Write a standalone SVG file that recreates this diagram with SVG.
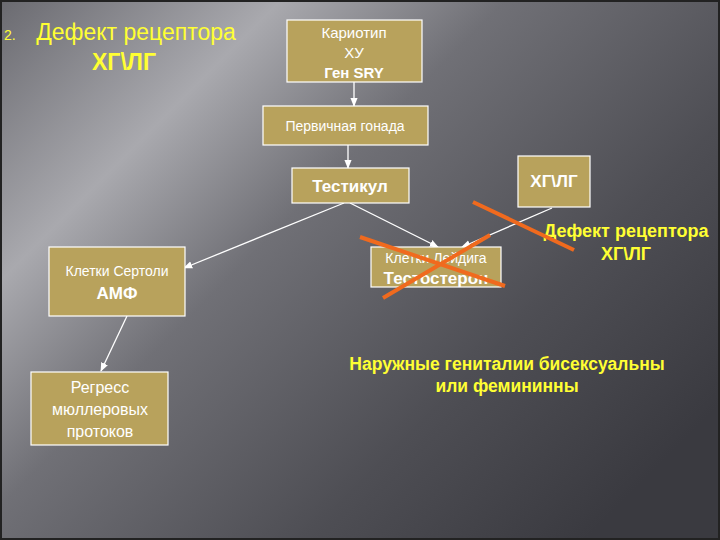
<svg xmlns="http://www.w3.org/2000/svg" width="720" height="540" viewBox="0 0 720 540">
<defs>
<linearGradient id="bg" x1="0" y1="0" x2="1" y2="0.75">
<stop offset="0" stop-color="#6a6a70"/>
<stop offset="0.25" stop-color="#a9a9ae"/>
<stop offset="0.45" stop-color="#707076"/>
<stop offset="0.75" stop-color="#4e4e54"/>
<stop offset="1" stop-color="#3a3a40"/>
</linearGradient>
<marker id="ah" viewBox="0 0 10 10" refX="9" refY="5" markerWidth="7" markerHeight="7" orient="auto"><path d="M0,1 L10,5 L0,9 z" fill="#fff"/></marker>
<style>
.box{fill:#b8a25c;stroke:#fff;stroke-width:1.2}
.t{font-family:"Liberation Sans",Arial,sans-serif;fill:#fff;text-anchor:middle}
.y{font-family:"Liberation Sans",Arial,sans-serif;fill:#ffff33;text-anchor:middle;font-weight:bold}
.c{stroke:#fff;stroke-width:1.3;fill:none;marker-end:url(#ah)}
.x{stroke:#f06a1e;stroke-width:4;stroke-linecap:butt}
</style>
</defs>
<rect width="720" height="540" fill="url(#bg)"/>
<rect x="1" y="1" width="718" height="538" fill="none" stroke="#222" stroke-width="2"/>
<text x="4" y="40" font-size="14" class="y" style="text-anchor:start;font-weight:normal">2.</text>
<text x="136" y="40" font-size="23" class="y" style="font-weight:normal">Дефект рецептора</text>
<text x="124" y="70" font-size="23" class="y">ХГ\ЛГ</text>
<g id="connectors">
<line class="c" x1="354" y1="82" x2="354" y2="106"/>
<line class="c" x1="348" y1="145" x2="348" y2="168"/>
<line class="c" x1="344" y1="203" x2="184" y2="268"/>
<line class="c" x1="350" y1="203" x2="438" y2="247"/>
<line class="c" x1="552" y1="208" x2="462" y2="247"/>
<line class="c" x1="127" y1="316" x2="101" y2="371"/>
</g>
<g id="karyotype"><rect class="box" x="287" y="20" width="135" height="62"/>
<text class="t" x="354" y="38" font-size="15">Кариотип</text><text class="t" x="354" y="58" font-size="15">ХУ</text><text class="t" x="354" y="78" font-size="15" font-weight="bold">Ген SRY</text></g>
<g id="gonad"><rect class="box" x="263" y="106" width="165" height="39"/><text class="t" x="345" y="131" font-size="14">Первичная гонада</text></g>
<g id="testis"><rect class="box" x="292" y="168" width="117" height="35"/><text class="t" x="350" y="192" font-size="17" font-weight="bold">Тестикул</text></g>
<g id="hglg"><rect class="box" x="518" y="156" width="72" height="51"/><text class="t" x="554" y="187" font-size="17" font-weight="bold">ХГ\ЛГ</text></g>
<g id="leydig"><rect class="box" x="371" y="247" width="130" height="40"/><text class="t" x="436" y="263" font-size="14">Клетки Лейдига</text><text class="t" x="436" y="284" font-size="17" font-weight="bold">Тестостерон</text></g>
<g id="sertoli"><rect class="box" x="49" y="247" width="136" height="69"/><text class="t" x="117" y="276" font-size="14">Клетки Сертоли</text><text class="t" x="117" y="299" font-size="17" font-weight="bold">АМФ</text></g>
<g id="regress"><rect class="box" x="31" y="372" width="137" height="73"/><text class="t" x="100" y="393" font-size="16">Регресс</text><text class="t" x="100" y="415" font-size="16">мюллеровых</text><text class="t" x="100" y="437" font-size="16">протоков</text></g>
<g id="defect"><text class="y" x="626" y="237" font-size="18">Дефект рецептора</text><text class="y" x="626" y="260" font-size="18">ХГ\ЛГ</text></g>
<g id="outcome"><text class="y" x="507" y="370" font-size="17.5">Наружные гениталии бисексуальны</text><text class="y" x="507" y="392" font-size="17.5">или фемининны</text></g>
<g id="crosses">
<line class="x" x1="473" y1="202" x2="574" y2="250"/>
<line class="x" x1="360" y1="237" x2="505" y2="286"/>
<line class="x" x1="383" y1="298" x2="490" y2="235"/>
</g>
</svg>
